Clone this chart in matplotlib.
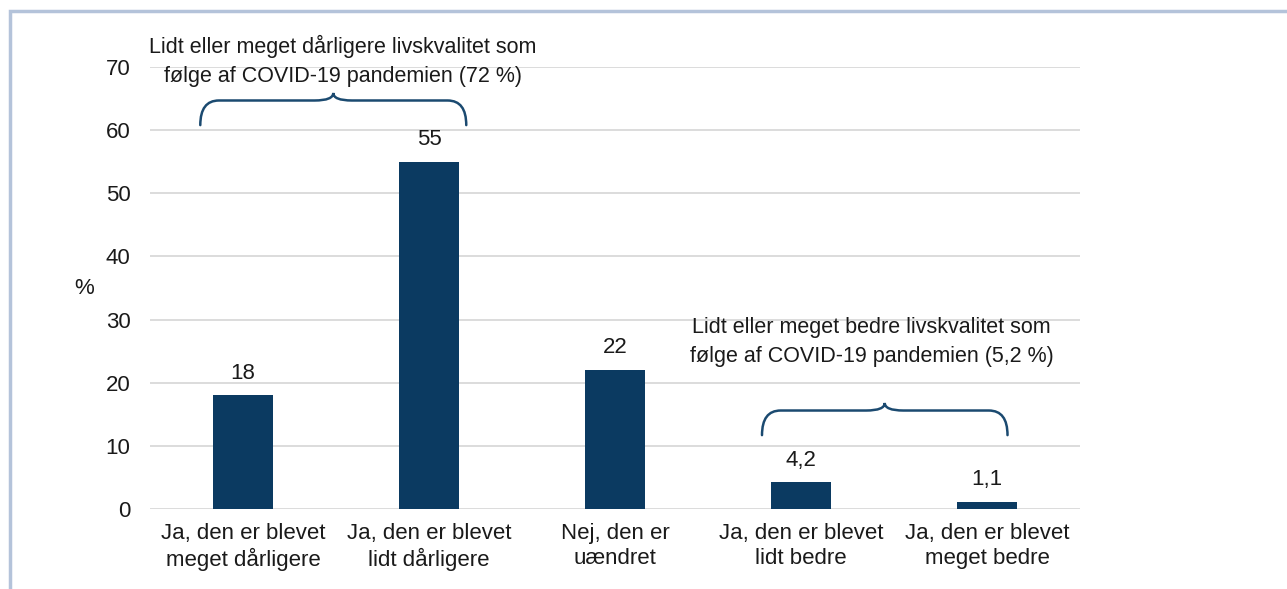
import matplotlib.pyplot as plt
from matplotlib.path import Path
from matplotlib.patches import PathPatch, Rectangle

plt.rcParams['font.family'] = ['Liberation Sans', 'DejaVu Sans']

categories = ['Ja, den er blevet\nmeget dårligere', 'Ja, den er blevet\nlidt dårligere',
              'Nej, den er\nuændret', 'Ja, den er blevet\nlidt bedre', 'Ja, den er blevet\nmeget bedre']
values = [18, 55, 22, 4.2, 1.1]
value_labels = ['18', '55', '22', '4,2', '1,1']
yticks = [0, 10, 20, 30, 40, 50, 60, 70]
worse_text = 'Lidt eller meget dårligere livskvalitet som\nfølge af COVID-19 pandemien (72 %)'
better_text = 'Lidt eller meget bedre livskvalitet som\nfølge af COVID-19 pandemien (5,2 %)'

bar_color = '#0b3a61'
brace_color = '#1b4a70'
txt = '#1a1a1a'


def brace(ax, x0, x1, y0, h, peak, rx):
    xm = (x0 + x1) / 2
    yt = y0 + h
    verts = [(x0, y0), (x0, yt), (x0 + rx, yt),
             (xm - rx, yt), (xm, yt), (xm, yt + peak),
             (xm, yt), (xm + rx, yt),
             (x1 - rx, yt), (x1, yt), (x1, y0)]
    codes = [Path.MOVETO, Path.CURVE3, Path.CURVE3,
             Path.LINETO, Path.CURVE3, Path.CURVE3,
             Path.CURVE3, Path.CURVE3,
             Path.LINETO, Path.CURVE3, Path.CURVE3]
    ax.add_patch(PathPatch(Path(verts, codes), fill=False, lw=1.8,
                           edgecolor=brace_color, capstyle='round', zorder=6))


fig = plt.figure(figsize=(12.87, 5.89), dpi=100)
ax = fig.add_axes([0.1166, 0.1358, 0.7226, 0.7504])

x = range(len(categories))
bars = ax.bar(x, values, width=0.32, color=bar_color, zorder=3)
for b, lab in zip(bars, value_labels):
    ax.annotate(lab, (b.get_x() + b.get_width() / 2, b.get_height()),
                xytext=(0, 8.5), textcoords='offset points',
                ha='center', va='bottom', fontsize=16, color=txt)

ax.set_xlim(-0.5, 4.5)
ax.set_ylim(0, 70)
ax.set_yticks(yticks)
ax.set_xticks(list(x))
ax.set_xticklabels(categories, fontsize=16, color=txt, linespacing=1.23)
ax.tick_params(axis='y', labelsize=16, colors=txt, length=0, pad=14)
ax.tick_params(axis='x', length=0, pad=10)
ax.grid(axis='y', color='#d9d9d9', lw=1.3, zorder=0)
for s in ax.spines.values():
    s.set_visible(False)
ax.set_ylabel('%', fontsize=16, rotation=0, color=txt, va='center', ha='center')
ax.yaxis.set_label_coords(-0.071, 0.5)

# brackets over the grouped bars
brace(ax, -0.23, 1.2, 60.8, 3.9, 1.2, 0.1)
brace(ax, 2.79, 4.11, 11.7, 3.9, 1.2, 0.1)

# white text box behind the upper note hides part of the 70 gridline
ax.add_patch(Rectangle((-0.5, 68.0), 2.23, 4.0, facecolor='white',
                       edgecolor='none', zorder=1, clip_on=False))
ax.text(0.538, 70.95, worse_text, ha='center', va='center', fontsize=15.5,
        color=txt, linespacing=1.53, zorder=5)
ax.text(3.38, 26.45, better_text, ha='center', va='center', fontsize=15.5,
        color=txt, linespacing=1.53, zorder=5)

# frame around the figure (top and left edges visible)
fig.patches.append(Rectangle((9.5 / 1287, -0.1), 1.2, 1.1 - 11.5 / 589,
                             transform=fig.transFigure, fill=False,
                             edgecolor='#b4c3da', lw=2.5))

fig.savefig('out.png', dpi=100)
